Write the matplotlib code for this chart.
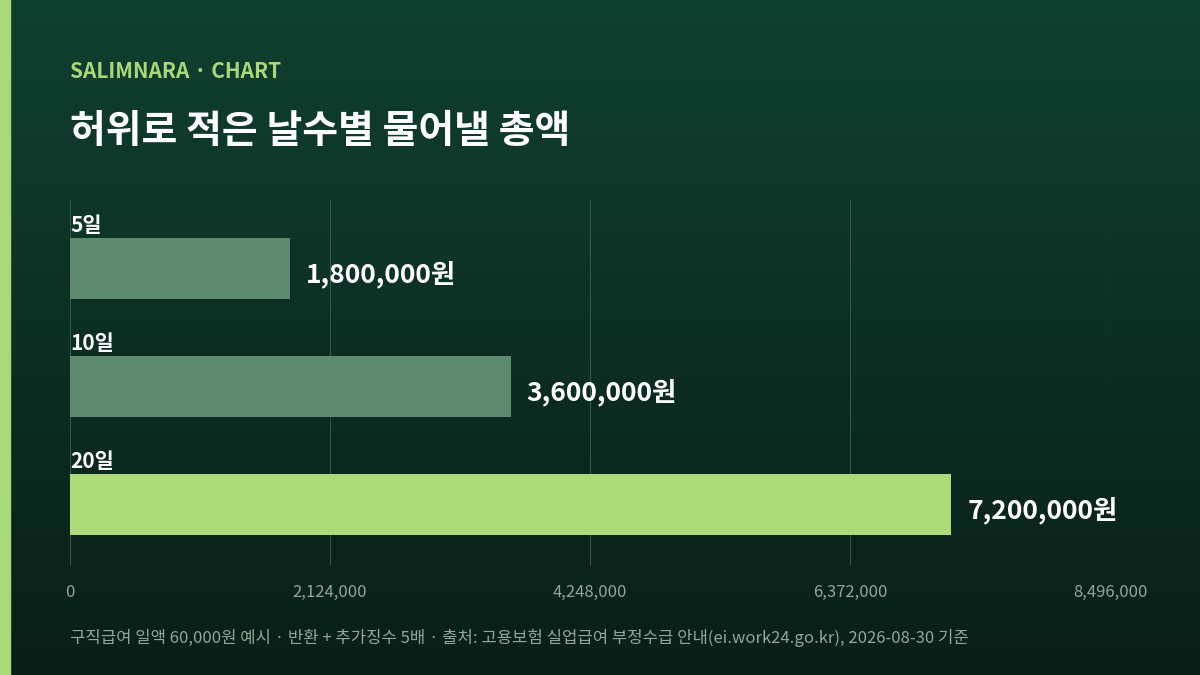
import numpy as np
import matplotlib.pyplot as plt

plt.rcParams['font.family'] = ['Noto Sans CJK KR', 'DejaVu Sans']

labels = ['5일', '10일', '20일']
values = [1800000, 3600000, 7200000]
colors = ['#5e8a6f', '#5e8a6f', '#acdb78']
ticks = [0, 2124000, 4248000, 6372000, 8496000]

W, H = 1200, 675
fig = plt.figure(figsize=(12, 6.75), dpi=100)

# background gradient
bg = fig.add_axes([0, 0, 1, 1])
grad = np.linspace(0, 1, 256)[:, None]
top = np.array([0x10, 0x40, 0x30]) / 255
bot = np.array([0x09, 0x1e, 0x17]) / 255
img = top + (bot - top) * grad[..., None]
bg.imshow(img, aspect='auto', extent=[0, 1, 0, 1])
bg.add_patch(plt.Rectangle((0, 0), 10 / W, 1, color='#a8d878'))
bg.set_xlim(0, 1); bg.set_ylim(0, 1); bg.axis('off')

ax = fig.add_axes([70 / W, 1 - 565 / H, 1040 / W, 365 / H])
ax.set_facecolor('none')
y = np.arange(len(labels))
ax.barh(y, values, height=0.517, color=colors)
ax.set_xlim(0, 8496000)
ax.set_ylim(2.513, -0.58)
for t in ticks:
    ax.axvline(t, color='#2a5a45', lw=0.8, zorder=0)
for i, (lab, v) in enumerate(zip(labels, values)):
    ax.text(0, i - 0.36, lab, color='white', fontsize=15, fontweight='bold', va='center', ha='left')
    ax.text(v + 130000, i + 0.05, f'{v:,}원', color='white', fontsize=19, fontweight='bold', va='center', ha='left')
ax.set_yticks([])
ax.set_xticks(ticks)
ax.set_xticklabels([f'{t:,}' for t in ticks], color='#8fa89a', fontsize=12)
ax.tick_params(axis='x', length=0, pad=14)
for s in ax.spines.values():
    s.set_visible(False)

fig.text(70 / W, 1 - 71 / H, 'SALIMNARA · CHART', color='#a8d878', fontsize=15, fontweight='bold', va='center')
fig.text(70 / W, 1 - 132 / H, '허위로 적은 날수별 물어낼 총액', color='white', fontsize=28, fontweight='bold', va='center')
fig.text(70 / W, 1 - 638 / H, '구직급여 일액 60,000원 예시 · 반환 + 추가징수 5배 · 출처: 고용보험 실업급여 부정수급 안내(ei.work24.go.kr), 2026-08-30 기준',
         color='#8fa89a', fontsize=12, va='center')

fig.savefig('out.png', dpi=100)
